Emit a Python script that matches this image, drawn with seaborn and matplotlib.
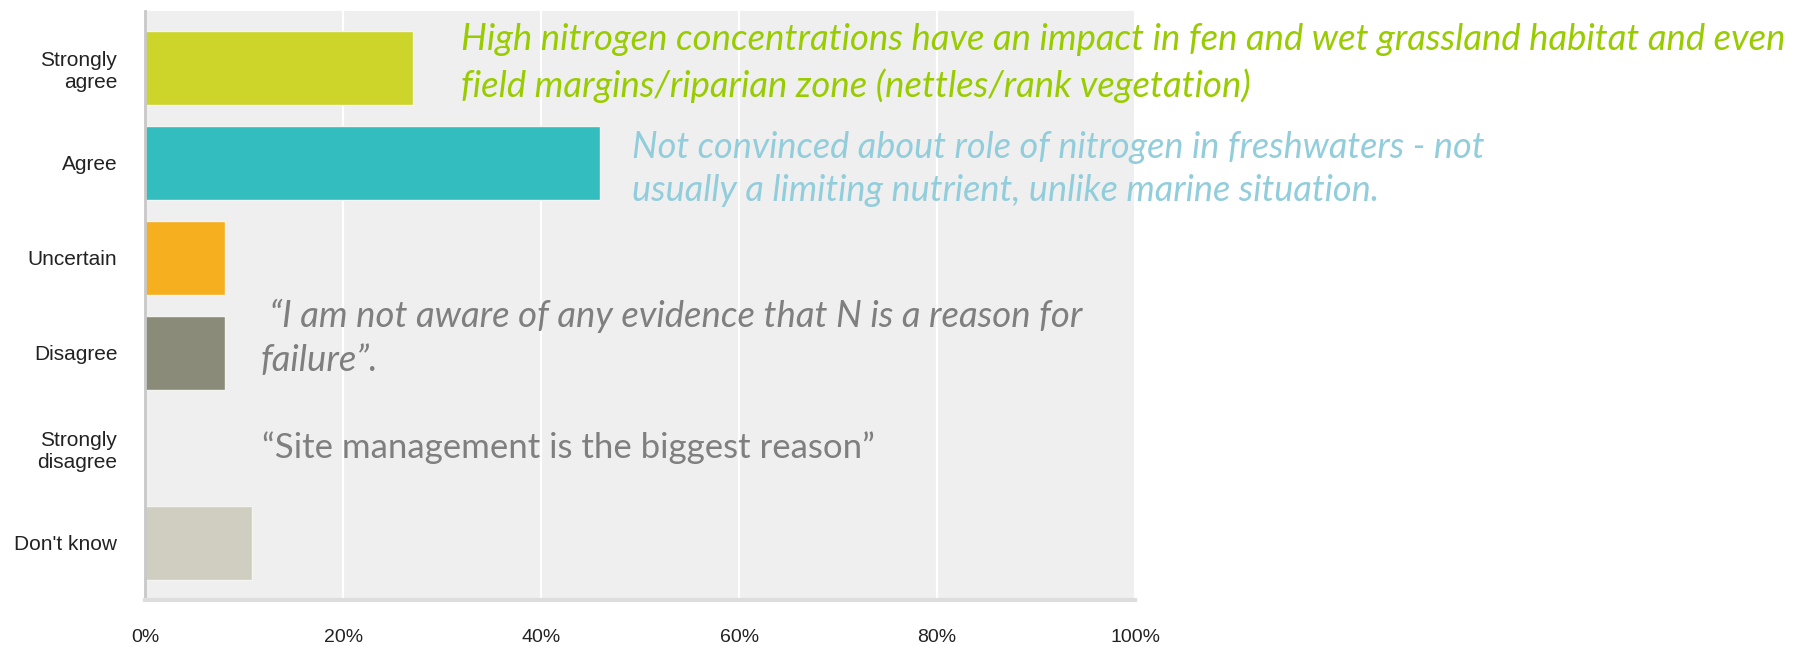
import matplotlib
matplotlib.use("Agg")
import matplotlib.pyplot as plt
import seaborn as sns
import pandas as pd

# survey responses (share of respondents, %)
categories = ["Strongly\nagree", "Agree", "Uncertain", "Disagree",
              "Strongly\ndisagree", "Don't know"]
percent = [27.03, 45.95, 8.11, 8.11, 0.0, 10.81]
bar_colors = ["#CDD42A", "#33BDBE", "#F5AF1F", "#8A8B78", "#8A8B78", "#CFCEC0"]
tick_values = [0, 20, 40, 60, 80, 100]
tick_labels = ["0%", "20%", "40%", "60%", "80%", "100%"]

comments = [
    "High nitrogen concentrations have an impact in fen and wet grassland habitat and even\n"
    "field margins/riparian zone (nettles/rank vegetation)",
    "Not convinced about role of nitrogen in freshwaters - not\n"
    "usually a limiting nutrient, unlike marine situation.",
    " \u201cI am not aware of any evidence that N is a reason for\nfailure\u201d.",
    "\u201cSite management is the biggest reason\u201d",
]

df = pd.DataFrame({"category": categories, "percent": percent})

sns.set_theme(style="white")
plt.rcParams["font.family"] = ["Liberation Sans", "DejaVu Sans"]

fig = plt.figure(figsize=(17.93, 6.46), dpi=100)
ax = fig.add_axes([0.0809, 0.0712, 0.5522, 0.912])
ax.set_facecolor("#EFEFEF")

sns.barplot(data=df, x="percent", y="category", hue="category",
            palette=bar_colors, orient="h", width=0.78, legend=False,
            saturation=1, edgecolor="#F4F4F0", linewidth=1, ax=ax)

ax.set_xlim(0, 100)
ax.set_ylim(5.6, -0.6)
ax.set_xticks(tick_values)
ax.set_xticklabels(tick_labels, fontsize=14, color="#222222")
ax.tick_params(axis="x", length=0, pad=21)
ax.tick_params(axis="y", length=0, pad=20, labelsize=15, labelcolor="#222222")
for lbl in ax.get_yticklabels():
    lbl.set_multialignment("right")
ax.set_xlabel("")
ax.set_ylabel("")

ax.grid(axis="x", color="white", linewidth=1.6)
ax.set_axisbelow(True)
for side in ["top", "right"]:
    ax.spines[side].set_visible(False)
ax.spines["left"].set_color("#C8C8C8")
ax.spines["left"].set_linewidth(2)
ax.spines["bottom"].set_color("#DDDDDD")
ax.spines["bottom"].set_linewidth(3)

font_it = ["Lato", "DejaVu Sans"]
fig.text(461 / 1793, 1 - 63 / 646, comments[0], color="#99CC00", fontsize=26.3,
         style="italic", family=font_it, va="center", linespacing=1.4)
fig.text(632 / 1793, 1 - 169 / 646, comments[1], color="#92CDDC", fontsize=26,
         style="italic", family=font_it, va="center", linespacing=1.4)
fig.text(261 / 1793, 1 - 338 / 646, comments[2], color="#7F7F7F", fontsize=26.3,
         style="italic", family=font_it, va="center", linespacing=1.4)
fig.text(262 / 1793, 1 - 448 / 646, comments[3], color="#7F7F7F", fontsize=25,
         family=font_it, va="center")

fig.savefig("out.png", dpi=100)
